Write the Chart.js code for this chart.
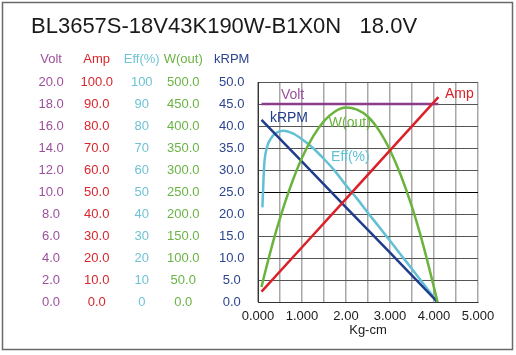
<!DOCTYPE html>
<html><head><meta charset="utf-8">
<script src="https://cdn.jsdelivr.net/npm/chart.js@4"></script>
<style>html,body{margin:0;padding:0;background:#fff}canvas{display:block}</style>
</head><body>
<canvas id="c" width="516" height="355"></canvas>
<script>
const TITLE = 'BL3657S-18V43K190W-B1X0N   18.0V';
const X_TITLE = 'Kg-cm';
const X_TICK_LABELS = ['0.000','1.000','2.00','3.000','4.000','5.000'];
const VOLT_TICKS = ['0.0','2.0','4.0','6.0','8.0','10.0','12.0','14.0','16.0','18.0','20.0'];
const AMP_TICKS = ['0.0','10.0','20.0','30.0','40.0','50.0','60.0','70.0','80.0','90.0','100.0'];
const EFF_TICKS = ['0','10','20','30','40','50','60','70','80','90','100'];
const WOUT_TICKS = ['0.0','50.0','100.0','150.0','200.0','250.0','300.0','350.0','400.0','450.0','500.0'];
const KRPM_TICKS = ['0.0','5.0','10.0','15.0','20.0','25.0','30.0','35.0','40.0','45.0','50.0'];

const VOLT_TORQUE = [0.08, 4.10];
const VOLT = [18.0, 18.0];
const AMP_TORQUE = [0.08, 1.0, 2.0, 3.0, 4.10];
const AMP = [4.7, 24.9, 46.9, 68.9, 93.1];
const KRPM_TORQUE = [0.08, 1.0, 2.0, 3.0, 4.08];
const KRPM = [41.4, 31.9, 21.5, 11.2, 0.0];
const WOUT_TORQUE = [0.08,0.15,0.25,0.4,0.6,0.8,1.0,1.25,1.5,1.75,2.0,2.25,2.5,2.75,3.0,3.25,3.5,3.75,4.0,4.08];
const WOUT = [34,63,102,157,222,279,328,376,411,433,442,437,421,390,345,287,216,131,33,0];
const EFF_TORQUE = [0.10,0.14,0.2,0.3,0.4,0.58,0.8,1.0,1.25,1.5,1.75,2.0,2.25,2.5,2.75,3.0,3.25,3.5,3.75,4.0,4.08];
const EFF = [43,62,70,74.5,76.7,77.8,76.5,74,70,65,59.5,53,47,40.5,34.2,27.8,21.4,15,8.5,2,0];

const C_VOLT = '#8a3d8a', C_VOLT_T = '#9b4f9b';
const C_AMP = '#dc2028', C_AMP_T = '#d9262e';
const C_EFF = '#62c0d4', C_EFF_T = '#6fc3d3';
const C_W = '#6ab43e', C_W_T = '#6bb344';
const C_K = '#1f3d8c', C_K_T = '#2d4590';

const PLOT_LABELS = [
  {text:'Volt', x:0.52, y:47.0, color:C_VOLT_T},
  {text:'kRPM', x:0.27, y:41.8, color:C_K},
  {text:'W(out)', x:1.61, y:40.7, color:C_W},
  {text:'Eff(%)', x:1.66, y:33.0, color:C_EFF},
  {text:'Amp', x:4.25, y:47.3, color:C_AMP}
];
const HEADERS = [
  {axis:'yV', text:'Volt', color:C_VOLT_T},
  {axis:'yA', text:'Amp', color:C_AMP_T},
  {axis:'yE', text:'Eff(%)', color:C_EFF_T},
  {axis:'yW', text:'W(out)', color:C_W_T},
  {axis:'yK', text:'kRPM', color:C_K_T}
];

const FONT = "'Liberation Sans', Arial, sans-serif";
const pts = (xs, ys) => xs.map((x,i)=>({x:x, y:ys[i]}));

function yAxis(max, labels, color, width, pad, weight, gridOn) {
  return {
    type:'linear', position:'left', min:0, max:max, weight:weight,
    afterFit(s){ s.width = width; },
    afterBuildTicks(s){ s.ticks = labels.map((l,i)=>({value: max*i/10})); },
    ticks:{
      color:color, font:{family:FONT, size:13}, padding:pad, crossAlign:'center',
      autoSkip:false, callback:(v,i)=>labels[i]
    },
    grid: gridOn ? {
      drawTicks:false,
      color:(c)=> (c.tick && Math.abs(c.tick.value-25)<1e-6) ? '#000' : '#555',
      lineWidth:1
    } : {display:false, drawTicks:false},
    border: gridOn ? {display:true, color:'#333', width:1} : {display:false}
  };
}

const headerPlugin = {
  id:'hdr',
  beforeDraw(chart){
    const ctx = chart.ctx;
    ctx.save(); ctx.fillStyle='#fff'; ctx.fillRect(0,0,chart.width,chart.height); ctx.restore();
  },
  afterDraw(chart){
    const ctx = chart.ctx;
    ctx.save();
    ctx.font = "13px " + FONT;
    ctx.textBaseline = 'middle';
    ctx.textAlign = 'center';
    HEADERS.forEach(h=>{
      const s = chart.scales[h.axis];
      const labels = s.ticks.map(t=>t.label);
      let widest = 0;
      labels.forEach(l=>{ widest = Math.max(widest, ctx.measureText(l).width); });
      const cx = s.right - s.options.ticks.padding - widest/2;
      ctx.fillStyle = h.color;
      ctx.fillText(h.text, cx, 59);
    });
    const xs = chart.scales.x, ys = chart.scales.yK;
    ctx.font = "14px " + FONT;
    ctx.textAlign = 'left';
    PLOT_LABELS.forEach(p=>{
      ctx.fillStyle = p.color;
      ctx.fillText(p.text, xs.getPixelForValue(p.x), ys.getPixelForValue(p.y));
    });
    ctx.strokeStyle = '#6a6a6a';
    ctx.lineWidth = 1.5;
    ctx.strokeRect(2.5, 2.5, 510, 347);
    ctx.restore();
  }
};

new Chart(document.getElementById('c'), {
  type:'line',
  data:{ datasets:[
    {label:'Amp', data:pts(AMP_TORQUE,AMP), yAxisID:'yA', borderColor:C_AMP, borderWidth:2.5, pointRadius:0, tension:0},
    {label:'Volt', data:pts(VOLT_TORQUE,VOLT), yAxisID:'yV', borderColor:C_VOLT, borderWidth:2.5, pointRadius:0, tension:0},
    {label:'W(out)', data:pts(WOUT_TORQUE,WOUT), yAxisID:'yW', borderColor:C_W, borderWidth:2.5, pointRadius:0, cubicInterpolationMode:'monotone'},
    {label:'kRPM', data:pts(KRPM_TORQUE,KRPM), yAxisID:'yK', borderColor:C_K, borderWidth:2.5, pointRadius:0, tension:0},
    {label:'Eff(%)', data:pts(EFF_TORQUE,EFF), yAxisID:'yE', borderColor:C_EFF, borderWidth:2.5, pointRadius:0, cubicInterpolationMode:'monotone'}
  ]},
  options:{
    responsive:false, animation:false, devicePixelRatio:1,
    layout:{padding:{left:31, right:38, top:0, bottom:0}},
    plugins:{
      legend:{display:false}, tooltip:{enabled:false},
      title:{display:true, text:TITLE, align:'start', color:'#1a1a1a',
        font:{family:FONT, size:22, weight:'normal'}, padding:{top:14, bottom:41.6}}
    },
    scales:{
      x:{
        type:'linear', min:0, max:5,
        afterFit(s){ s.height = 53; },
        afterBuildTicks(s){ const t=[]; for(let i=0;i<=10;i++) t.push({value:i*0.5}); s.ticks=t; },
        ticks:{autoSkip:false, maxRotation:0, color:'#1a1a1a', font:{family:FONT, size:13}, padding:7,
          callback:(v)=> (Math.abs(v-Math.round(v))<1e-6) ? X_TICK_LABELS[Math.round(v)] : ''},
        grid:{drawTicks:false, color:'#a8a8a8', lineWidth:1.5},
        border:{display:true, color:'#333', width:1},
        title:{display:true, text:X_TITLE, color:'#1a1a1a', font:{family:FONT, size:13}, padding:{top:0,bottom:17}}
      },
      yV: yAxis(20, VOLT_TICKS, C_VOLT_T, 40.2, 7.5, 5, false),
      yA: yAxis(100, AMP_TICKS, C_AMP_T, 51, 9.2, 4, false),
      yE: yAxis(100, EFF_TICKS, C_EFF_T, 39, 8.6, 3, false),
      yW: yAxis(500, WOUT_TICKS, C_W_T, 44.2, 5.9, 2, false),
      yK: yAxis(50, KRPM_TICKS, C_K_T, 52.6, 13.6, 1, true)
    }
  },
  plugins:[headerPlugin]
});
</script>
</body></html>
